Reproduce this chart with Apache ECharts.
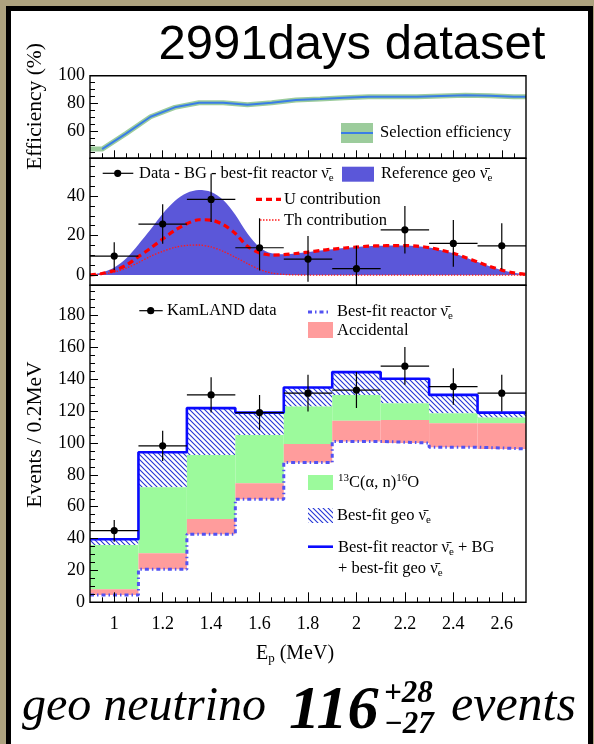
<!DOCTYPE html>
<html>
<head>
<meta charset="utf-8">
<script src="https://cdn.jsdelivr.net/npm/echarts@6/dist/echarts.min.js"></script>
<style>
  html, body { margin: 0; padding: 0; width: 594px; height: 744px; overflow: hidden; background: #ada27f; }
  #frame { position: absolute; left: 6px; top: 6px; width: 577px; height: 800px; background: #fff; border: 5px solid #000; }
  #chart { position: absolute; left: 0; top: 0; width: 594px; height: 744px; }
</style>
</head>
<body>
<div id="frame"></div>
<div id="chart"></div>
<script>
// ---- prompt-energy binning (MeV) ----
const binEdges   = [0.9, 1.1, 1.3, 1.5, 1.7, 1.9, 2.1, 2.3, 2.5, 2.7];
const binCenters = [1.0, 1.2, 1.4, 1.6, 1.8, 2.0, 2.2, 2.4, 2.6];

// ---- selection efficiency (%) ----
const effEnergy = [0.90, 0.95, 1.05, 1.15, 1.25, 1.35, 1.45, 1.55, 1.65, 1.75, 1.85, 1.95, 2.05, 2.15, 2.25, 2.35, 2.45, 2.55, 2.65, 2.70];
const effValue  = [47.6, 47.6, 58.8, 70.7, 77.4, 80.7, 80.7, 79.3, 80.7, 82.6, 83.4, 84.3, 85.0, 85.0, 85.0, 85.5, 86.0, 85.7, 85.0, 85.0];

// ---- reference geo-neutrino spectrum and its U / Th parts ----
const geoEnergy = [0.90, 0.95, 1.00, 1.05, 1.10, 1.15, 1.20, 1.25, 1.30, 1.35, 1.40, 1.45, 1.50, 1.55, 1.60, 1.65, 1.70, 1.75, 1.80,
                   1.85, 1.90, 1.95, 2.00, 2.05, 2.10, 2.15, 2.20, 2.25, 2.30, 2.35, 2.40, 2.45, 2.50, 2.55, 2.60, 2.65, 2.70];
const geoReference = [0, 1.3, 3.8, 8.5, 15.5, 23.0, 31.0, 37.5, 41.5, 43.0, 42.0, 38.0, 30.5, 21.0, 14.0, 11.0, 10.5, 10.9, 11.6,
                      12.4, 13.1, 13.7, 14.2, 14.6, 14.8, 14.9, 14.9, 14.6, 13.9, 12.6, 11.0, 8.9, 6.6, 4.4, 2.5, 1.1, 0.3];
const uContribution = [0, 0.8, 2.3, 5.0, 9.3, 13.6, 18.2, 22.6, 26.0, 28.0, 27.8, 25.5, 21.0, 14.6, 11.2, 10.1, 10.3, 10.9, 11.6,
                       12.4, 13.1, 13.7, 14.2, 14.6, 14.8, 14.9, 14.9, 14.6, 13.9, 12.6, 11.0, 8.9, 6.6, 4.4, 2.5, 1.1, 0.3];
const thContribution = [0, 0.5, 1.5, 3.5, 6.3, 9.5, 12.0, 14.0, 15.0, 15.2, 14.2, 12.0, 9.0, 5.8, 2.8, 1.0, 0.3, 0.05, 0,
                        0, 0, 0, 0, 0, 0, 0, 0, 0, 0, 0, 0, 0, 0, 0, 0, 0, 0];

// ---- data - BG - best-fit reactor (events / 0.2 MeV) ----
const geoData     = [9.6, 25.8, 38.3, 13.8, 8.1, 3.2, 22.9, 16.0, 14.8];
const geoDataUp   = [7.0, 10.0, 13.0, 15.0, 11.6, 11.6, 12.0, 11.8, 11.4];
const geoDataDown = [7.0, 10.0, 11.5, 11.5, 11.5, 11.5, 12.0, 11.8, 11.9];

// ---- KamLAND candidates and cumulative expectations (events / 0.2 MeV) ----
const kamData     = [45.0, 98.2, 130.2, 119.1, 131.3, 133.2, 148.2, 135.4, 131.3];
const kamDataUp   = [6.7, 9.5, 11.1, 11.1, 11.5, 11.3, 12.0, 11.6, 11.5];
const kamDataDown = [7.0, 9.5, 11.1, 11.0, 11.6, 11.3, 11.7, 11.4, 11.5];
const reactorTop    = [4.6, 20.7, 42.7, 64.7, 87.7, 101.0, 100.0, 97.4, 96.3];
const accidentalTop = [8.2, 30.8, 52.3, 74.7, 99.3, 113.9, 114.5, 112.4, 112.4];
const carbonTop     = [36.0, 72.2, 92.5, 105.1, 122.9, 130.2, 125.0, 118.7, 116.0];
const totalTop      = [39.6, 94.2, 121.9, 119.1, 134.8, 144.5, 140.3, 130.2, 119.1];

// ---- tick marks and labels ----
const xMajor = [1.0, 1.2, 1.4, 1.6, 1.8, 2.0, 2.2, 2.4, 2.6];
const xTickLabels = ['1', '1.2', '1.4', '1.6', '1.8', '2', '2.2', '2.4', '2.6'];
const effMajor = [60, 80, 100];
const geoMajor = [0, 20, 40];
const evtMajor = [0, 20, 40, 60, 80, 100, 120, 140, 160, 180];

function minorTicks(lo, hi, step, majors) {
  const out = [];
  for (let v = lo; v <= hi + 1e-9; v += step) {
    const r = Math.round(v * 1000) / 1000;
    if (!majors.some(m => Math.abs(m - r) < 1e-6)) out.push(r);
  }
  return out;
}
const xMinor = minorTicks(0.95, 2.65, 0.05, xMajor);
const effMinor = minorTicks(45, 95, 5, effMajor);
const geoMinor = minorTicks(-5, 55, 5, geoMajor);
const evtMinor = minorTicks(5, 195, 5, evtMajor);

// ---- styling ----
const SERIF = '"Liberation Serif", "Times New Roman", serif';
const GEO_BLUE = '#5b57d9';
const HATCH_BLUE = '#2536d6';

function hatchPattern() {
  const c = document.createElement('canvas');
  c.width = 5; c.height = 5;
  const g = c.getContext('2d');
  g.strokeStyle = HATCH_BLUE;
  g.lineWidth = 1.1;
  g.beginPath();
  g.moveTo(-1, -1); g.lineTo(6, 6);
  g.moveTo(-1, 4); g.lineTo(1, 6);
  g.moveTo(4, -1); g.lineTo(6, 1);
  g.stroke();
  return { image: c, repeat: 'repeat' };
}
const hatch = hatchPattern();

// panel rectangles
const panels = [
  { left: 90, top: 75.7, width: 436, height: 82.6 },
  { left: 90, top: 158.3, width: 436, height: 127 },
  { left: 90, top: 285.3, width: 436, height: 317 }
];
const yRanges = [[41, 100], [-5.2, 59.1], [0, 199]];

const grids = [];
panels.forEach(p => grids.push(Object.assign({ show: false, outerBoundsMode: 'none', containLabel: false }, p)));
panels.forEach(p => grids.push(Object.assign({ show: true, z: 20, borderColor: '#000', borderWidth: 1.4,
  backgroundColor: 'rgba(0,0,0,0)', outerBoundsMode: 'none', containLabel: false }, p)));

function xAxisFor(gridIndex, majors, len, labels) {
  return {
    type: 'value', gridIndex, min: 0.9, max: 2.7, z: 15,
    axisLine: { show: false }, splitLine: { show: false },
    axisTick: majors ? { show: true, inside: true, length: len, customValues: majors, lineStyle: { color: '#000', width: 1 } } : { show: false },
    axisLabel: labels ? {
      show: true, customValues: xMajor, margin: 13, color: '#000', fontFamily: SERIF, fontSize: 18,
      formatter: v => xTickLabels[xMajor.findIndex(m => Math.abs(m - v) < 1e-6)]
    } : { show: false }
  };
}
function yAxisFor(gridIndex, range, ticks, len, labels) {
  return {
    type: 'value', gridIndex, min: range[0], max: range[1], z: 15,
    axisLine: { show: false }, splitLine: { show: false },
    axisTick: { show: true, inside: true, length: len, customValues: ticks, lineStyle: { color: '#000', width: 1 } },
    axisLabel: labels ? { show: true, customValues: ticks, margin: 5, color: '#000', fontFamily: SERIF, fontSize: 18 } : { show: false }
  };
}

const xAxes = [
  xAxisFor(0, xMajor, 8, false),
  xAxisFor(1, null, 0, false),
  xAxisFor(2, xMajor, 10, true),
  xAxisFor(3, xMinor, 5, false),
  xAxisFor(4, null, 0, false),
  xAxisFor(5, xMinor, 5, false)
];
const yAxes = [
  yAxisFor(0, yRanges[0], effMajor, 8, true),
  yAxisFor(1, yRanges[1], geoMajor, 8, true),
  yAxisFor(2, yRanges[2], evtMajor, 8, true),
  yAxisFor(3, yRanges[0], effMinor, 5, false),
  yAxisFor(4, yRanges[1], geoMinor, 5, false),
  yAxisFor(5, yRanges[2], evtMinor, 5, false)
];

// data points with horizontal bin-width bars and vertical error bars
function pointsWithErrors(axis, vals, up, down) {
  return {
    type: 'custom', xAxisIndex: axis, yAxisIndex: axis, clip: true, z: 9,
    data: binCenters.map((c, i) => [c, vals[i], up[i], down[i], binEdges[i], binEdges[i + 1]]),
    encode: { x: 0, y: 1 },
    renderItem(params, api) {
      const c = api.value(0), v = api.value(1);
      const pc = api.coord([c, v]);
      const pl = api.coord([api.value(4), v]);
      const pr = api.coord([api.value(5), v]);
      const pt = api.coord([c, v + api.value(2)]);
      const pb = api.coord([c, v - api.value(3)]);
      const ls = { stroke: '#000', lineWidth: 1.2 };
      return {
        type: 'group', children: [
          { type: 'line', shape: { x1: pl[0], y1: pl[1], x2: pr[0], y2: pr[1] }, style: ls },
          { type: 'line', shape: { x1: pt[0], y1: pt[1], x2: pb[0], y2: pb[1] }, style: ls },
          { type: 'circle', shape: { cx: pc[0], cy: pc[1], r: 3.6 }, style: { fill: '#000' } }
        ]
      };
    }
  };
}

// filled band between two cumulative histograms
function histBand(lower, upper, fill, z) {
  return {
    type: 'custom', xAxisIndex: 2, yAxisIndex: 2, clip: true, z,
    data: lower.map((l, i) => [binEdges[i], binEdges[i + 1], l, upper[i]]),
    encode: { x: [0, 1], y: [2, 3] },
    renderItem(params, api) {
      const a = api.coord([api.value(0), api.value(3)]);
      const b = api.coord([api.value(1), api.value(2)]);
      return { type: 'rect', shape: { x: a[0], y: a[1], width: b[0] - a[0], height: b[1] - a[1] }, style: { fill } };
    }
  };
}
const stepPairs = vals => binEdges.map((e, i) => [e, vals[Math.min(i, vals.length - 1)]]);
const pairs = (xs, ys) => xs.map((x, i) => [x, ys[i]]);

const series = [
  // efficiency band and central curve
  { type: 'line', xAxisIndex: 0, yAxisIndex: 0, symbol: 'none', z: 3, data: pairs(effEnergy, effValue),
    lineStyle: { color: '#9ccc9c', width: 5 } },
  { type: 'line', xAxisIndex: 0, yAxisIndex: 0, symbol: 'none', z: 4, data: pairs(effEnergy.slice(1), effValue.slice(1)),
    lineStyle: { color: '#3a7de6', width: 2 } },

  // reference geo spectrum and its components
  { type: 'line', xAxisIndex: 1, yAxisIndex: 1, symbol: 'none', smooth: 0.3, z: 3, data: pairs(geoEnergy, geoReference),
    lineStyle: { width: 0 }, areaStyle: { color: GEO_BLUE, opacity: 1 } },
  { type: 'line', xAxisIndex: 1, yAxisIndex: 1, symbol: 'none', smooth: 0.3, z: 5, data: pairs(geoEnergy, thContribution),
    lineStyle: { color: '#ff1a1a', width: 1.3, type: [1.5, 1.5] } },
  { type: 'line', xAxisIndex: 1, yAxisIndex: 1, symbol: 'none', smooth: 0.3, z: 6, data: pairs(geoEnergy, uContribution),
    lineStyle: { color: '#ff0000', width: 3.2, type: [6, 4] } },
  pointsWithErrors(1, geoData, geoDataUp, geoDataDown),

  // stacked expectation
  histBand(carbonTop, totalTop, hatch, 3),
  histBand(accidentalTop, carbonTop, '#9cfa9c', 3),
  histBand(reactorTop, accidentalTop, '#ff9c9c', 3),
  { type: 'line', xAxisIndex: 2, yAxisIndex: 2, symbol: 'none', step: 'end', z: 6, data: stepPairs(reactorTop),
    lineStyle: { color: '#5252f2', width: 3, type: [4, 3, 1.5, 3] } },
  { type: 'line', xAxisIndex: 2, yAxisIndex: 2, symbol: 'none', step: 'end', z: 7, data: stepPairs(totalTop),
    lineStyle: { color: '#0a0aff', width: 2.6 } },
  pointsWithErrors(2, kamData, kamDataUp, kamDataDown)
];

// legends, titles and annotation text
const txt = (x, y, text, extra) => ({
  type: 'text', x, y, z: 30,
  style: Object.assign({ text, font: '16.5px ' + SERIF, fill: '#000', align: 'left', verticalAlign: 'middle' }, extra || {})
});
const nuRich = {
  n: { fontFamily: SERIF, fontSize: 16.5 },
  s: { fontFamily: SERIF, fontSize: 11, padding: [9, 0, 0, 0] },
  p: { fontFamily: SERIF, fontSize: 11, padding: [0, 0, 9, 0] }
};
const rich = (x, y, text) => ({
  type: 'text', x, y, z: 30,
  style: { text, rich: nuRich, fill: '#000', align: 'left', verticalAlign: 'middle', font: '16.5px ' + SERIF }
});
const hline = (x1, x2, y, stroke, width, dash) => ({
  type: 'line', z: 30, shape: { x1, y1: y, x2, y2: y }, style: { stroke, lineWidth: width, lineDash: dash || null }
});
const box = (x, y, w, h, fill) => ({ type: 'rect', z: 30, shape: { x, y, width: w, height: h }, style: { fill } });
const dot = (cx, cy) => ({ type: 'circle', z: 31, shape: { cx, cy, r: 3.6 }, style: { fill: '#000' } });

const graphics = [
  txt(352, 45, '2991days dataset', { font: '49px "Liberation Sans", Arial, sans-serif', align: 'center' }),
  Object.assign(txt(35, 106.5, 'Efficiency (%)', { font: '21.5px ' + SERIF, align: 'center' }), { rotation: Math.PI / 2 }),
  Object.assign(txt(35, 434.5, 'Events / 0.2MeV', { font: '21.5px ' + SERIF, align: 'center' }), { rotation: Math.PI / 2 }),
  {
    type: 'text', x: 295, y: 654, z: 30,
    style: { text: '{n|E}{s|p}{n| (MeV)}', align: 'center', verticalAlign: 'middle', fill: '#000',
      rich: { n: { fontFamily: SERIF, fontSize: 20 }, s: { fontFamily: SERIF, fontSize: 13, padding: [10, 0, 0, 0] } } }
  },

  // efficiency legend
  box(341, 123, 32, 20, '#9ccc9c'),
  hline(341, 373, 133, '#3a7de6', 2),
  txt(380, 133, 'Selection efficiency'),

  // geo panel legend
  hline(102.7, 133.3, 173.3, '#000', 1.2), dot(117.7, 173.3),
  rich(139, 174, '{n|Data - BG - best-fit reactor ν\u0304}{s|e}'),
  box(342, 166.7, 32, 15, GEO_BLUE),
  rich(381, 174, '{n|Reference geo ν\u0304}{s|e}'),
  hline(256, 281, 199.3, '#ff0000', 3.2, [6, 4]),
  txt(284, 199.5, 'U contribution'),
  hline(260, 281, 220, '#ff1a1a', 1.3, [1.5, 1.5]),
  txt(284, 220.5, 'Th contribution'),

  // spectrum legend
  hline(139.3, 162.7, 310.7, '#000', 1.2), dot(150.7, 310.7),
  txt(167, 311, 'KamLAND data'),
  hline(308, 330, 312, '#5252f2', 3, [4, 3, 1.5, 3]),
  rich(337, 312, '{n|Best-fit reactor ν\u0304}{s|e}'),
  box(308, 322, 25, 16, '#ff9c9c'),
  txt(337, 330.5, 'Accidental'),
  box(308, 475, 25, 15, '#9cfa9c'),
  rich(338, 483, '{p|13}{n|C(α, n)}{p|16}{n|O}'),
  box(308, 508, 25, 15, hatch),
  rich(337, 516, '{n|Best-fit geo ν\u0304}{s|e}'),
  hline(308, 333, 546.7, '#0a0aff', 2.6),
  rich(338, 547.5, '{n|Best-fit reactor ν\u0304}{s|e}{n| + BG}'),
  rich(338, 569, '{n|+ best-fit geo ν\u0304}{s|e}'),

  // fitted number of geo-neutrino events
  txt(22, 707, 'geo neutrino', { font: 'italic 48px ' + SERIF }),
  txt(289, 712, '116', { font: 'italic bold 62px ' + SERIF }),
  txt(384, 694, '+28', { font: 'italic bold 31px ' + SERIF }),
  txt(384, 725, '\u221227', { font: 'italic bold 31px ' + SERIF }),
  txt(451, 707, 'events', { font: 'italic 50px ' + SERIF })
];

const chart = echarts.init(document.getElementById('chart'), null, { renderer: 'canvas' });
chart.setOption({
  animation: false,
  backgroundColor: 'transparent',
  grid: grids,
  xAxis: xAxes,
  yAxis: yAxes,
  series,
  graphic: graphics
});
</script>
</body>
</html>
